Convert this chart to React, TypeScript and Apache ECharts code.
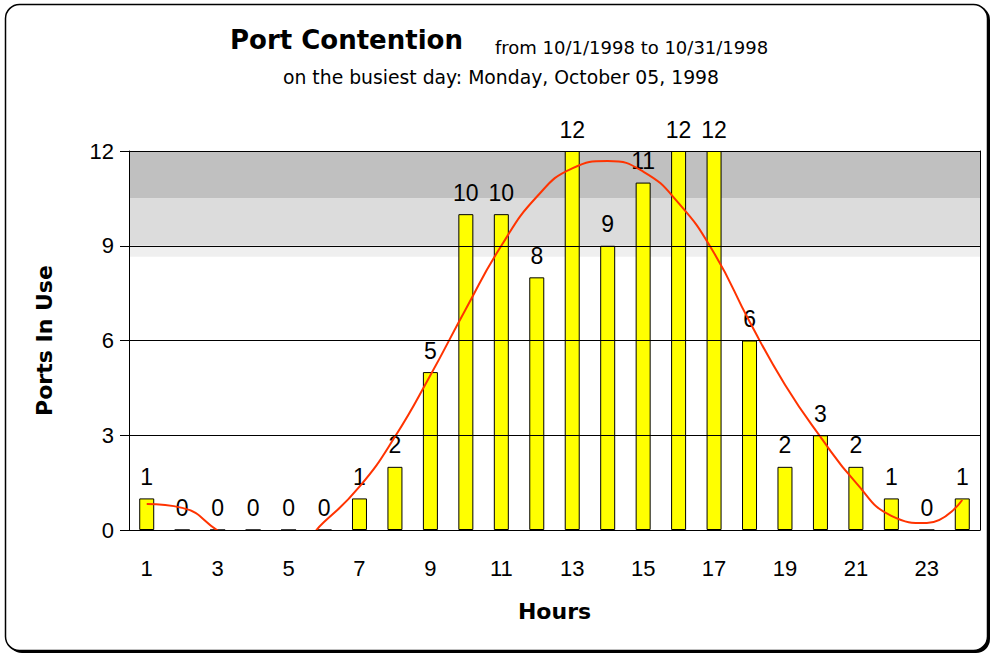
import React, { useEffect, useRef } from "react";
import * as echarts from "echarts";

const hours = ["1","2","3","4","5","6","7","8","9","10","11","12","13","14","15","16","17","18","19","20","21","22","23","24"];
const portsInUse = [1,0,0,0,0,0,1,2,5,10,10,8,12,9,11,12,12,6,2,3,2,1,0,1];
const trendLine = [0.82,0.7,-0.02,-0.8,-0.7,0.25,1.37,2.95,4.9,7.0,9.0,10.55,11.45,11.68,11.35,10.35,8.77,6.6,4.6,2.95,1.5,0.45,0.22,0.95];
const yTicks = [0, 3, 6, 9, 12];
const titleMain = "Port Contention";
const titleRange = "from 10/1/1998 to 10/31/1998";
const titleSub = "on the busiest day: Monday, October 05, 1998";

const FONT = "'Liberation Sans', Arial, sans-serif";
const WIDE = "'DejaVu Sans', Verdana, sans-serif";

export default function App() {
  const ref = useRef<HTMLDivElement>(null);
  useEffect(() => {
    document.body.style.margin = "0";
    const chart = echarts.init(ref.current!, null, { renderer: "svg" });
    chart.setOption({
      animation: false,
      backgroundColor: "#fff",
      textStyle: { fontFamily: FONT },
      graphic: [
        { type: "rect", z: -10, shape: { x: 8, y: 6, width: 982, height: 647, r: 14 }, style: { fill: "#000" } },
        { type: "rect", z: -9, shape: { x: 5.5, y: 4.5, width: 982, height: 646, r: 14 }, style: { fill: "#fff", stroke: "#000", lineWidth: 1.5 } },
        { type: "text", x: 230, y: 27, style: { text: titleMain, font: `bold 26px ${WIDE}`, fill: "#000" } },
        { type: "text", x: 495, y: 38, style: { text: titleRange, font: `18px ${WIDE}`, fill: "#000" } },
        { type: "text", x: 501, y: 68, style: { text: titleSub, font: `18.8px ${WIDE}`, fill: "#000", textAlign: "center" } },
      ],
      grid: { left: 129, right: 12, top: 151, bottom: 125, show: false },
      xAxis: {
        type: "category",
        data: hours,
        name: "Hours",
        nameLocation: "middle",
        nameGap: 70,
        nameTextStyle: { fontSize: 22, fontWeight: "bold", color: "#000", fontFamily: WIDE },
        axisLine: { lineStyle: { color: "#000", width: 1 } },
        axisTick: { interval: 0, length: 9, lineStyle: { color: "#000" } },
        axisLabel: { interval: 1, fontSize: 22, color: "#000", margin: 27, fontFamily: FONT },
        z: 5,
      },
      yAxis: [
        {
          type: "value",
          min: 0,
          max: 12,
          interval: 3,
          name: "Ports In Use",
          nameLocation: "middle",
          nameGap: 74,
          nameRotate: 90,
          nameTextStyle: { fontSize: 22, fontWeight: "bold", color: "#000", fontFamily: WIDE },
          axisLine: { show: true, lineStyle: { color: "#000" } },
          axisTick: { show: true, length: 9, lineStyle: { color: "#000" } },
          axisLabel: { fontSize: 22, color: "#000", margin: 15, fontFamily: FONT },
          splitLine: { show: false },
          z: 5,
        },
        {
          type: "value",
          min: 0,
          max: 12,
          interval: 3,
          position: "right",
          axisLine: { show: true, lineStyle: { color: "#000" } },
          axisTick: { show: false },
          axisLabel: { show: false },
          splitLine: { show: false },
          z: 5,
        },
      ],
      series: [
        {
          type: "line",
          data: hours.map(() => null),
          z: 1,
          silent: true,
          symbol: "none",
          markArea: {
            silent: true,
            data: [
              [{ yAxis: 10.5, itemStyle: { color: "#c0c0c0" } }, { yAxis: 12 }],
              [{ yAxis: 9, itemStyle: { color: "#dcdcdc" } }, { yAxis: 10.5 }],
              [{ yAxis: 8.65, itemStyle: { color: "#efefef" } }, { yAxis: 9 }],
            ],
          },
          markLine: {
            silent: true,
            symbol: "none",
            label: { show: false },
            lineStyle: { color: "#000", width: 1, type: "solid" },
            data: yTicks.filter((v) => v > 0).map((v) => ({ yAxis: v })),
          },
        },
        {
          type: "bar",
          data: portsInUse,
          z: 3,
          barWidth: 15,
          itemStyle: { color: "#ffff00", borderColor: "#000", borderWidth: 1 },
          label: { show: true, position: "top", distance: 10, fontSize: 23, color: "#000", fontFamily: FONT },
        },
        {
          type: "line",
          data: trendLine,
          z: 4,
          smooth: true,
          symbol: "none",
          lineStyle: { color: "#ff3300", width: 2 },
        },
      ],
    });
    return () => chart.dispose();
  }, []);
  return <div ref={ref} style={{ width: 992, height: 655 }} />;
}
